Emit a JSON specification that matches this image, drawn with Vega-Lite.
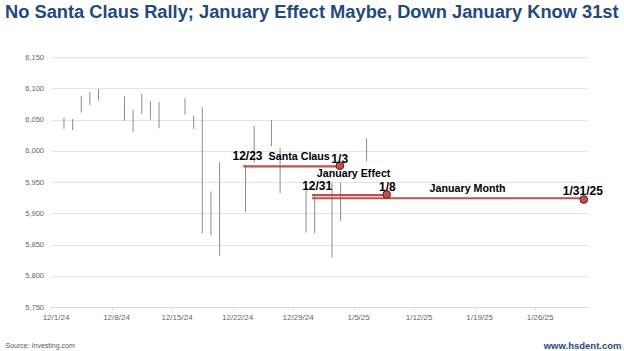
{
  "$schema": "https://vega.github.io/schema/vega-lite/v6.json",
  "width": 536,
  "height": 250,
  "autosize": "none",
  "padding": {"left": 51, "top": 57, "right": 37, "bottom": 44},
  "background": "white",
  "title": {
    "text": "No Santa Claus Rally; January Effect Maybe, Down January Know 31st",
    "anchor": "start",
    "frame": "group",
    "dx": -46,
    "offset": 17,
    "baseline": "alphabetic",
    "font": "Liberation Sans",
    "fontSize": 18.3,
    "fontWeight": "bold",
    "color": "#1f4a7c"
  },
  "config": {
    "view": {"stroke": null},
    "font": "Liberation Sans",
    "axis": {"labelFont": "Liberation Sans", "titleFont": "Liberation Sans"},
    "axisY": {
      "grid": true,
      "gridColor": "#e3e3e3",
      "domain": false,
      "ticks": false,
      "labelPadding": 7.5,
      "labelFontSize": 7.5,
      "labelColor": "#666666"
    }
  },
  "datasets": {
    "candles": [
      {"date": "2024-12-02T12:00:00", "high": 6053, "low": 6035},
      {"date": "2024-12-03T12:00:00", "high": 6051, "low": 6033},
      {"date": "2024-12-04T12:00:00", "high": 6088, "low": 6061},
      {"date": "2024-12-05T12:00:00", "high": 6094, "low": 6073},
      {"date": "2024-12-06T12:00:00", "high": 6099, "low": 6080},
      {"date": "2024-12-09T12:00:00", "high": 6087, "low": 6048},
      {"date": "2024-12-10T12:00:00", "high": 6065, "low": 6030},
      {"date": "2024-12-11T12:00:00", "high": 6091, "low": 6059},
      {"date": "2024-12-12T12:00:00", "high": 6079, "low": 6050},
      {"date": "2024-12-13T12:00:00", "high": 6078, "low": 6036},
      {"date": "2024-12-16T12:00:00", "high": 6084, "low": 6058},
      {"date": "2024-12-17T12:00:00", "high": 6056, "low": 6035},
      {"date": "2024-12-18T12:00:00", "high": 6070, "low": 5868},
      {"date": "2024-12-19T12:00:00", "high": 5935, "low": 5865},
      {"date": "2024-12-20T12:00:00", "high": 5982, "low": 5832},
      {"date": "2024-12-23T12:00:00", "high": 5978, "low": 5902},
      {"date": "2024-12-24T12:00:00", "high": 6040, "low": 5981},
      {"date": "2024-12-26T12:00:00", "high": 6049, "low": 6007},
      {"date": "2024-12-27T12:00:00", "high": 6005, "low": 5932},
      {"date": "2024-12-30T12:00:00", "high": 5942, "low": 5869},
      {"date": "2024-12-31T12:00:00", "high": 5929, "low": 5868},
      {"date": "2025-01-02T12:00:00", "high": 5949, "low": 5829},
      {"date": "2025-01-03T12:00:00", "high": 5949, "low": 5888},
      {"date": "2025-01-06T12:00:00", "high": 6020, "low": 5983}
    ],
    "spans": [
      {"name": "Santa Claus", "start": "2024-12-23T06:00:00", "end": "2025-01-03T10:00:00", "val": 5975},
      {"name": "January Effect", "start": "2024-12-31T04:30:00", "end": "2025-01-08T20:00:00", "val": 5929},
      {"name": "January Month", "start": "2024-12-31T04:30:00", "end": "2025-01-31T15:00:00", "val": 5924}
    ],
    "ends": [
      {"date": "2025-01-03T10:00:00", "val": 5976},
      {"date": "2025-01-08T20:00:00", "val": 5930},
      {"date": "2025-01-31T15:00:00", "val": 5922}
    ],
    "dateLabels": [
      {"date": "2024-12-23T17:30:00", "val": 5985, "label": "12/23"},
      {"date": "2025-01-03T09:30:00", "val": 5981, "label": "1/3"},
      {"date": "2024-12-31T19:00:00", "val": 5938, "label": "12/31"},
      {"date": "2025-01-08T22:00:00", "val": 5936, "label": "1/8"},
      {"date": "2025-01-31T12:30:00", "val": 5929, "label": "1/31/25"}
    ],
    "nameLabels": [
      {"date": "2024-12-29T17:00:00", "val": 5986, "label": "Santa Claus"},
      {"date": "2025-01-05T00:00:00", "val": 5957.5, "label": "January Effect"},
      {"date": "2025-01-18T04:30:00", "val": 5933.5, "label": "January Month"}
    ]
  },
  "resolve": {"axis": {"x": "independent"}},
  "layer": [
    {
      "data": {"name": "candles"},
      "mark": {"type": "rule", "color": "#8c8c8c", "strokeWidth": 1},
      "encoding": {
        "x": {
          "field": "date",
          "type": "temporal",
          "scale": {"domain": [{"year": 2024, "month": 12, "date": 1}, {"year": 2025, "month": 2, "date": 1}]},
          "axis": {
            "orient": "bottom",
            "tickCount": {"interval": "week", "step": 1},
            "format": "%-m/%-d/%y",
            "labelOffset": 4.5,
            "labelFontSize": 8,
            "labelColor": "#666666",
            "labelPadding": 3,
            "labelFlush": false,
            "tickSize": 3,
            "tickColor": "#d9d9d9",
            "domainColor": "#d9d9d9",
            "grid": false,
            "title": "Source: Investing.com",
            "titleAnchor": "start",
            "titleAlign": "left",
            "titleBaseline": "alphabetic",
            "titleX": -46,
            "titleY": 40,
            "titleFontSize": 7,
            "titleFontWeight": "normal",
            "titleColor": "#595959"
          }
        },
        "y": {
          "field": "high",
          "type": "quantitative",
          "scale": {"domain": [5750, 6150], "nice": false, "zero": false},
          "axis": {"values": [5750, 5800, 5850, 5900, 5950, 6000, 6050, 6100, 6150], "format": ",.0f", "title": null}
        },
        "y2": {"field": "low"}
      }
    },
    {
      "data": {"name": "spans"},
      "mark": {"type": "rule", "color": "#c0504d", "strokeWidth": 2.2},
      "encoding": {
        "x": {
          "field": "start",
          "type": "temporal",
          "axis": {
            "orient": "bottom",
            "labels": false,
            "ticks": false,
            "domain": false,
            "grid": false,
            "title": "www.hsdent.com",
            "titleAnchor": "end",
            "titleAlign": "right",
            "titleBaseline": "alphabetic",
            "titleX": 570,
            "titleY": 41,
            "titleFontSize": 9.5,
            "titleFontWeight": "bold",
            "titleColor": "#1f4a7c"
          }
        },
        "x2": {"field": "end"},
        "y": {"field": "val", "type": "quantitative", "axis": {"values": [5750, 5800, 5850, 5900, 5950, 6000, 6050, 6100, 6150], "format": ",.0f", "title": null}}
      }
    },
    {
      "data": {"name": "ends"},
      "mark": {"type": "point", "filled": true, "size": 60, "color": "#c0504d", "stroke": "#5a1e1c", "strokeWidth": 1, "opacity": 1},
      "encoding": {
        "x": {"field": "date", "type": "temporal", "axis": null},
        "y": {"field": "val", "type": "quantitative", "axis": {"values": [5750, 5800, 5850, 5900, 5950, 6000, 6050, 6100, 6150], "format": ",.0f", "title": null}}
      }
    },
    {
      "data": {"name": "dateLabels"},
      "mark": {"type": "text", "align": "center", "baseline": "alphabetic", "fontSize": 12, "fontWeight": "bold", "color": "#000000"},
      "encoding": {
        "x": {"field": "date", "type": "temporal", "axis": null},
        "y": {"field": "val", "type": "quantitative", "axis": {"values": [5750, 5800, 5850, 5900, 5950, 6000, 6050, 6100, 6150], "format": ",.0f", "title": null}},
        "text": {"field": "label"}
      }
    },
    {
      "data": {"name": "nameLabels"},
      "mark": {"type": "text", "align": "center", "baseline": "alphabetic", "fontSize": 10.7, "fontWeight": "bold", "color": "#000000"},
      "encoding": {
        "x": {"field": "date", "type": "temporal", "axis": null},
        "y": {"field": "val", "type": "quantitative", "axis": {"values": [5750, 5800, 5850, 5900, 5950, 6000, 6050, 6100, 6150], "format": ",.0f", "title": null}},
        "text": {"field": "label"}
      }
    }
  ]
}
